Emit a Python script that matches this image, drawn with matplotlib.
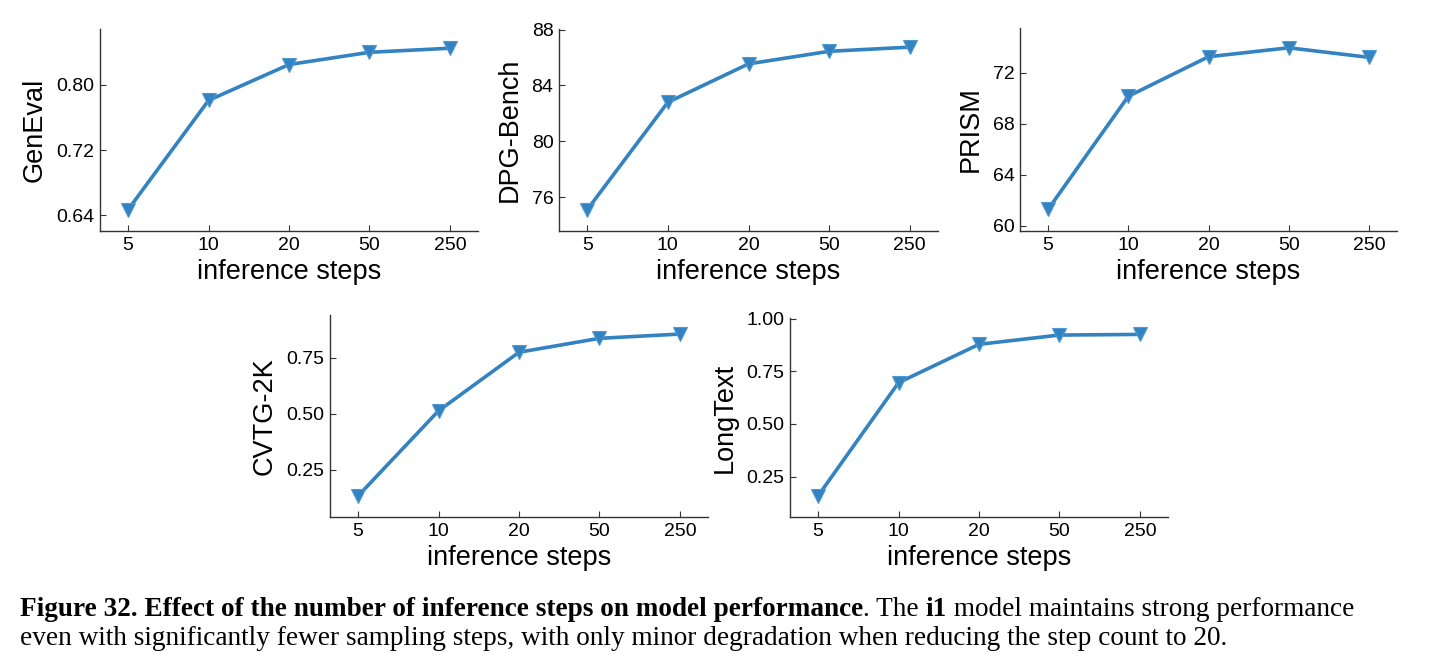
import numpy as np
import matplotlib
matplotlib.use('Agg')
import matplotlib.pyplot as plt

# ── data ─────────────────────────────────────────────────────────────────────
steps = ['5', '10', '20', '50', '250']
geneval   = [0.647, 0.781, 0.825, 0.840, 0.845]
dpg_bench = [75.1, 82.8, 85.55, 86.45, 86.75]
prism     = [61.3, 70.15, 73.25, 73.95, 73.2]
cvtg_2k   = [0.134, 0.513, 0.774, 0.836, 0.855]
longtext  = [0.159, 0.696, 0.878, 0.922, 0.925]

panels = [
    # name, values, yticks, ylim, axes rect in px (left, top, right, bottom)
    ('GenEval',    geneval,   [0.64, 0.72, 0.80], (0.6207, 0.8686), (100, 29, 478, 231), '{:.2f}'),
    ('DPG-Bench',  dpg_bench, [76, 80, 84, 88],   (73.57, 88.05),   (559, 29, 938, 231), '{:.0f}'),
    ('PRISM',      prism,     [60, 64, 68, 72],   (59.6, 75.5),     (1020, 28, 1397, 231), '{:.0f}'),
    ('CVTG-2K',    cvtg_2k,   [0.25, 0.50, 0.75], (0.0396, 0.94),   (330, 315, 708, 517), '{:.2f}'),
    ('LongText',   longtext,  [0.25, 0.50, 0.75, 1.00], (0.058, 1.003), (790, 318, 1168, 517), '{:.2f}'),
]

BLUE = '#3382c2'
W, H = 1442, 670

plt.rcParams['font.family'] = ['Liberation Sans', 'DejaVu Sans']
fig = plt.figure(figsize=(W / 100, H / 100), dpi=100)

for name, vals, yt, yl, (l, t, r, b), fmt in panels:
    ax = fig.add_axes([l / W, 1 - b / H, (r - l) / W, (b - t) / H])
    x = np.arange(len(steps))
    ax.plot(x, vals, color=BLUE, lw=2.6, marker='v', markersize=10,
            markerfacecolor=BLUE, markeredgecolor='#4f98d0', markeredgewidth=0.8)
    ax.set_xticks(x)
    ax.set_xticklabels(steps)
    ax.set_yticks(yt)
    ax.set_yticklabels([fmt.format(v) for v in yt])
    ax.set_xlim(-0.35, 4.35)
    ax.set_ylim(*yl)
    for s in ['top', 'right']:
        ax.spines[s].set_visible(False)
    for s in ['left', 'bottom']:
        ax.spines[s].set_color('#333333')
        ax.spines[s].set_linewidth(1.0)
    ax.tick_params(direction='in', length=4, width=0.8, color='#333333',
                   labelsize=14, pad=4)
    ax.set_xlabel('inference steps', fontsize=19.5, labelpad=4)
    ax.set_ylabel(name, fontsize=19.5, labelpad=6)

# ── caption ──────────────────────────────────────────────────────────────────
line1 = [('Figure 32. Effect of the number of inference steps on model performance', 'bold'),
         ('. The ', 'normal'), ('i1', 'bold'),
         (' model maintains strong performance', 'normal')]
line2 = [('even with significantly fewer sampling steps, with only minor degradation '
          'when reducing the step count to 20.', 'normal')]

serif = ['Liberation Serif', 'DejaVu Serif']
renderer = fig.canvas.get_renderer()

def line_width(parts, size):
    w = 0
    for txt, wt in parts:
        t = fig.text(0, 0, txt, fontsize=size, fontweight=wt, family=serif)
        w += t.get_window_extent(renderer).width
        t.remove()
    return w

base = 15
cap_size = base * (1405 + 1152) / (line_width(line1, base) + line_width(line2, base))

def draw_line(parts, x0, y0, size):
    x = x0
    for txt, wt in parts:
        t = fig.text(x / W, 1 - y0 / H, txt, fontsize=size, fontweight=wt,
                     family=serif, va='baseline', ha='left')
        x += t.get_window_extent(renderer).width

draw_line(line1, 20, 616, cap_size)
draw_line(line2, 20, 645, cap_size)

fig.savefig('out.png', dpi=100)
